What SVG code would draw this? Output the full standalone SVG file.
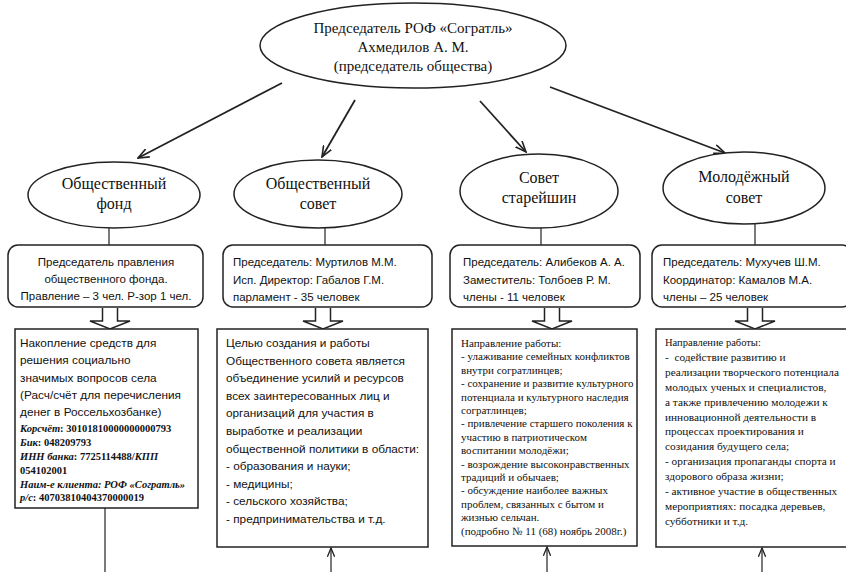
<svg xmlns="http://www.w3.org/2000/svg" width="846" height="572" viewBox="0 0 846 572">
<defs>
<style>
.sh{fill:#fff;stroke:#222;stroke-width:1.5}
.ln{stroke:#222;stroke-width:1.2;fill:none}
.ar{stroke:#222;stroke-width:1.8;fill:none}
.tm{font-family:"Liberation Serif","Times New Roman",serif;fill:#111}
.sn{font-family:"Liberation Sans",Arial,sans-serif;fill:#111}
.el{font-size:16px;text-anchor:middle}
.rb{font-size:11.5px}
.b1{font-size:11.8px}
.b2{font-size:11.8px}
.b3{font-size:11px}
.b4{font-size:11.3px}
.bd{font-size:10.5px;font-weight:bold}
.bi{font-style:italic}
</style>
<marker id="ah" viewBox="0 0 12 10" refX="11" refY="5" markerWidth="12" markerHeight="10" markerUnits="userSpaceOnUse" orient="auto">
<path d="M0,0.5 L11,5 L0,9.5" fill="none" stroke="#222" stroke-width="1.6"/>
</marker>
<marker id="ah2" viewBox="0 0 12 10" refX="11" refY="5" markerWidth="10" markerHeight="8" markerUnits="userSpaceOnUse" orient="auto">
<path d="M0,0.5 L11,5 L0,9.5" fill="none" stroke="#222" stroke-width="1.6"/>
</marker>
</defs>
<rect width="846" height="572" fill="#fff"/>

<g id="connectors">
<line class="ar" x1="282" y1="83" x2="138" y2="158" marker-end="url(#ah)"/>
<line class="ar" x1="355" y1="100" x2="322" y2="157" marker-end="url(#ah)"/>
<line class="ar" x1="480" y1="101" x2="526" y2="152" marker-end="url(#ah)"/>
<line class="ar" x1="550" y1="87" x2="725" y2="153" marker-end="url(#ah)"/>
<line class="ln" x1="109" y1="228" x2="109" y2="245"/>
<line class="ln" x1="325" y1="228" x2="325" y2="245"/>
<line class="ln" x1="541" y1="228" x2="541" y2="245"/>
<line class="ln" x1="755" y1="224" x2="755" y2="245"/>
<line class="ln" x1="105" y1="508" x2="105" y2="572"/>
<line class="ln" x1="331" y1="572" x2="331" y2="548" marker-end="url(#ah2)"/>
<line class="ln" x1="547" y1="572" x2="547" y2="547" marker-end="url(#ah2)"/>
<line class="ln" x1="762" y1="572" x2="762" y2="548" marker-end="url(#ah2)"/>
</g>

<g id="chairman">
<ellipse class="sh" cx="413" cy="45.5" rx="153" ry="42.5"/>
<text class="tm" font-size="15" text-anchor="middle" x="413" y="33">Председатель РОФ «Согратль»</text>
<text class="tm" font-size="15" text-anchor="middle" x="413" y="52">Ахмедилов А. М.</text>
<text class="tm" font-size="15" text-anchor="middle" x="413" y="71">(председатель общества)</text>
</g>

<g id="fund">
<ellipse class="sh" cx="114" cy="195" rx="86" ry="33"/>
<text class="tm el" x="114" y="189">Общественный</text>
<text class="tm el" x="114" y="209">фонд</text>
</g>

<g id="council">
<ellipse class="sh" cx="318" cy="194" rx="84" ry="34"/>
<text class="tm el" x="318" y="189">Общественный</text>
<text class="tm el" x="318" y="209">совет</text>
</g>

<g id="elders">
<ellipse class="sh" cx="539" cy="191" rx="79" ry="37"/>
<text class="tm el" x="539" y="183">Совет</text>
<text class="tm el" x="539" y="203">старейшин</text>
</g>

<g id="youth">
<ellipse class="sh" cx="744" cy="188" rx="81" ry="36"/>
<text class="tm el" x="744" y="182">Молодёжный</text>
<text class="tm el" x="744" y="203">совет</text>
</g>

<g id="fund-info">
<rect class="sh" x="8" y="245" width="195" height="62" rx="10"/>
<text class="sn rb" text-anchor="middle" x="106" y="266">Председатель правления</text>
<text class="sn rb" text-anchor="middle" x="106" y="283">общественного фонда.</text>
<text class="sn rb" text-anchor="middle" x="106" y="300">Правление – 3 чел. Р-зор 1 чел.</text>
</g>

<g id="council-info">
<rect class="sh" x="223" y="245" width="209" height="62" rx="10"/>
<text class="sn rb" x="233" y="266">Председатель:  Муртилов М.М.</text>
<text class="sn rb" x="233" y="284">Исп. Директор:  Габалов Г.М.</text>
<text class="sn rb" x="233" y="301">парламент  - 35 человек</text>
</g>

<g id="elders-info">
<rect class="sh" x="450" y="245" width="190" height="62" rx="10"/>
<text class="sn rb" x="463" y="266">Председатель:  Алибеков А. А.</text>
<text class="sn rb" x="463" y="284">Заместитель: Толбоев Р. М.</text>
<text class="sn rb" x="463" y="301">члены  - 11 человек</text>
</g>

<g id="youth-info">
<rect class="sh" x="652" y="245" width="200" height="62" rx="10"/>
<text class="sn rb" x="663" y="266">Председатель: Мухучев Ш.М.</text>
<text class="sn rb" x="663" y="284">Координатор: Камалов М.А.</text>
<text class="sn rb" x="663" y="301">члены – 25 человек</text>
</g>

<g id="block-arrows">
<path class="sh" d="M102.5,308 V321 H90 L110,329 L130,321 H117.5 V308"/>
<path class="sh" d="M315.5,308 V321 H303 L323,329 L343,321 H330.5 V308"/>
<path class="sh" d="M544.5,308 V321 H532 L552,329 L572,321 H559.5 V308"/>
<path class="sh" d="M747.5,308 V321 H735 L755,329 L775,321 H762.5 V308"/>
</g>

<g id="fund-text">
<rect class="sh" x="15" y="329" width="183" height="179"/>
<text class="sn b1" x="20" y="347">Накопление средств для</text>
<text class="sn b1" x="20" y="364">решения социально</text>
<text class="sn b1" x="20" y="382">значимых вопросов села</text>
<text class="sn b1" x="20" y="399">(Расч/счёт для перечисления</text>
<text class="sn b1" x="20" y="416">денег в Россельхозбанке)</text>
<text class="tm bd" x="20" y="432"><tspan class="bi">Корсчёт</tspan>: 30101810000000000793</text>
<text class="tm bd" x="20" y="446"><tspan class="bi">Бик</tspan>: 048209793</text>
<text class="tm bd" x="20" y="460"><tspan class="bi">ИНН банка</tspan>: 7725114488/<tspan class="bi">КПП</tspan></text>
<text class="tm bd" x="20" y="474">054102001</text>
<text class="tm bd bi" x="20" y="488">Наим-е клиента: РОФ «Согратль»</text>
<text class="tm bd" x="20" y="501"><tspan class="bi">р/с</tspan>: 40703810404370000019</text>
</g>

<g id="council-text">
<rect class="sh" x="217" y="329" width="211" height="218"/>
<text class="sn b2" x="226" y="347">Целью создания и работы</text>
<text class="sn b2" x="226" y="364.6">Общественного совета является</text>
<text class="sn b2" x="226" y="382.2">объединение усилий и ресурсов</text>
<text class="sn b2" x="226" y="399.8">всех заинтересованных лиц и</text>
<text class="sn b2" x="226" y="417.4">организаций для участия в</text>
<text class="sn b2" x="226" y="435">выработке и реализации</text>
<text class="sn b2" x="226" y="452.6">общественной политики в области:</text>
<text class="sn b2" x="226" y="470.2">- образования и науки;</text>
<text class="sn b2" x="226" y="487.8">- медицины;</text>
<text class="sn b2" x="226" y="505.4">- сельского хозяйства;</text>
<text class="sn b2" x="226" y="523">- предпринимательства и т.д.</text>
</g>

<g id="elders-text">
<rect class="sh" x="452" y="329" width="185" height="217"/>
<text class="tm b3" x="461" y="347">Направление работы:</text>
<text class="tm b3" x="461" y="360.4">- улаживание семейных конфликтов</text>
<text class="tm b3" x="461" y="373.8">внутри согратлинцев;</text>
<text class="tm b3" x="461" y="387.2">- сохранение и развитие культурного</text>
<text class="tm b3" x="461" y="400.6">потенциала и культурного наследия</text>
<text class="tm b3" x="461" y="414">согратлинцев;</text>
<text class="tm b3" x="461" y="427.4">- привлечение старшего поколения к</text>
<text class="tm b3" x="461" y="440.8">участию в патриотическом</text>
<text class="tm b3" x="461" y="454.2">воспитании молодёжи;</text>
<text class="tm b3" x="461" y="467.6">- возрождение высоконравственных</text>
<text class="tm b3" x="461" y="481">традиций и обычаев;</text>
<text class="tm b3" x="461" y="494.4">- обсуждение наиболее важных</text>
<text class="tm b3" x="461" y="507.8">проблем, связанных с бытом и</text>
<text class="tm b3" x="461" y="521.2">жизнью сельчан.</text>
<text class="tm b3" x="461" y="534.6">(подробно № 11 (68) ноябрь 2008г.)</text>
</g>

<g id="youth-text">
<rect class="sh" x="656" y="329" width="196" height="218"/>
<text class="tm" font-size="10.5" x="665" y="346">Направление работы:</text>
<text class="tm b4" x="665" y="360.9">-&#160; содействие развитию и</text>
<text class="tm b4" x="665" y="375.8">реализации творческого потенциала</text>
<text class="tm b4" x="665" y="390.7">молодых ученых и специалистов,</text>
<text class="tm b4" x="665" y="405.6">а также привлечению молодежи к</text>
<text class="tm b4" x="665" y="420.5">инновационной деятельности в</text>
<text class="tm b4" x="665" y="435.4">процессах проектирования и</text>
<text class="tm b4" x="665" y="450.3">созидания будущего села;</text>
<text class="tm b4" x="665" y="465.2">- организация пропаганды спорта и</text>
<text class="tm b4" x="665" y="480.1">здорового образа жизни;</text>
<text class="tm b4" x="665" y="495">- активное участие в общественных</text>
<text class="tm b4" x="665" y="509.9">мероприятиях: посадка деревьев,</text>
<text class="tm b4" x="665" y="524.8">субботники и т.д.</text>
</g>
</svg>
